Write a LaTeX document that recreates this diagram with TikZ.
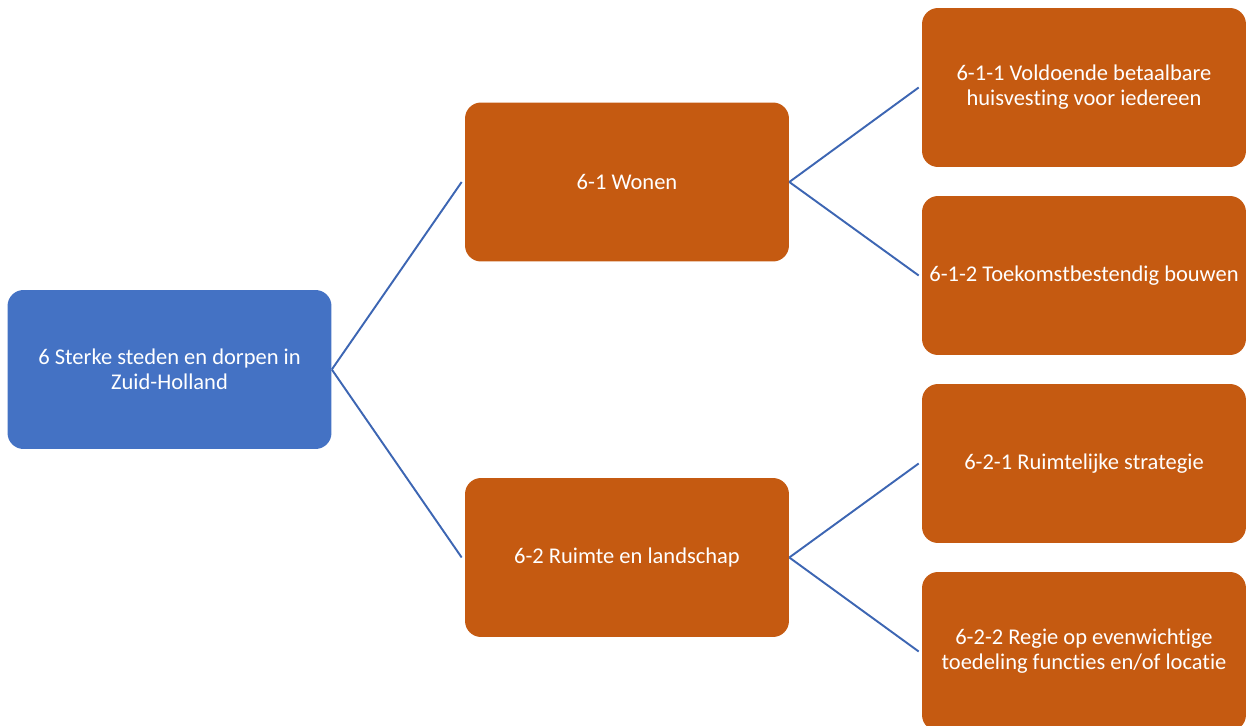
\documentclass[tikz,border=0pt]{standalone}
\usepackage{fontspec}
\setmainfont[Ligatures=NoCommon]{Carlito}
\usepackage{tikz}
\definecolor{rootblue}{HTML}{4472C4}
\definecolor{leaforange}{HTML}{C55A11}
\definecolor{linkblue}{HTML}{3D66B3}
\tikzset{goal/.style={rectangle, rounded corners=0.32cm, draw=none, text=white, align=center,
    minimum width=6.48cm, minimum height=3.18cm, inner sep=0pt,
    font=\fontsize{12.8}{14.2}\selectfont}}
\tikzset{link/.style={draw=linkblue, line width=1.1pt}}

\begin{document}
\begin{tikzpicture}[x=0.02cm,y=-0.02cm]
  \useasboundingbox (0,0) rectangle (1249,726);
  \node[goal, fill=rootblue] (r) at (169.5,369.5) {6 Sterke steden en dorpen in\\Zuid-Holland};
  \foreach \x/\y/\lab/\txt in {
    627/182/a/{6-1 Wonen},
    627/557.5/b/{6-2 Ruimte en landschap},
    1084/87.5/a1/{6-1-1 Voldoende betaalbare\\huisvesting voor iedereen},
    1084/275.5/a2/{6-1-2 Toekomstbestendig bouwen},
    1084/463.5/b1/{6-2-1 Ruimtelijke strategie},
    1084/651.5/b2/{6-2-2 Regie op evenwichtige\\toedeling functies en/of locatie}%
  } {
    \node[goal, fill=leaforange] (\lab) at (\x, \y) {\txt};
  }
  \foreach \u/\v in {
    r/a,
    r/b,
    a/a1,
    a/a2,
    b/b1,
    b/b2%
  }{
    \draw[link] (\u.east) -- ([xshift=-0.06cm]\v.west);
  }
\end{tikzpicture}
\end{document}
